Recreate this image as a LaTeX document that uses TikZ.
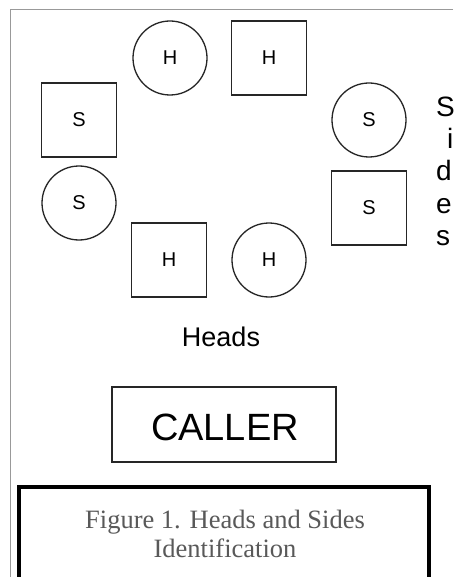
\documentclass[tikz,border=0pt]{standalone}
\usepackage{fontspec}
\setmainfont{Liberation Sans}
\newfontfamily\capfont{Liberation Serif}
\begin{document}
\begin{tikzpicture}[x=1pt,y=-1pt,
  seat/.style={draw=black!85,line width=1.3pt,inner sep=0pt,font=\fontsize{20}{22}\selectfont},
  hc/.style={seat,circle,minimum size=74pt},
  sq/.style={seat,rectangle,minimum width=75pt,minimum height=74pt},
  big/.style={font=\fontsize{28}{32}\selectfont,inner sep=0pt,anchor=base west},
  captext/.style={font=\capfont\fontsize{26.5}{29}\selectfont,text=black!65,inner sep=0pt,anchor=base}]
\useasboundingbox (0,0) rectangle (453,577);
\clip (0,0) rectangle (453,577);
\fill[white] (0,0) rectangle (453,577);
% gray frame
\coordinate (g1) at (453,10);
\coordinate (g2) at (10,10);
\coordinate (g3) at (10,577);
\draw[black!40,line width=1pt] (g1) -- (g2) -- (g3);
% seats
\node[hc] (hc1) at (170,58) {H};
\node[sq] (hs1) at (269,58) {H};
\node[sq] (ss1) at (79,120) {S};
\node[hc] (sc1) at (369,120) {S};
\node[hc] (sc2) at (79,203) {S};
\node[sq] (ss2) at (369,208) {S};
\node[sq] (hs2) at (169,260) {H};
\node[hc] (hc2) at (269,260) {H};
% Sides label
\node[big] (s1) at (436,117) {S};
\node[big] (s2) at (447,149) {i};
\node[big] (s3) at (436,181) {d};
\node[big] (s4) at (436,213) {e};
\node[big] (s5) at (436,245) {s};
% Heads label
\node[font=\fontsize{27}{32}\selectfont,inner sep=0pt,anchor=base] (heads) at (221,346) {Heads};
% Caller
\node[draw=black!85,line width=1.3pt,minimum width=224pt,minimum height=75pt,inner sep=0pt] (callerbox) at (224,424.5) {};
\node[font=\fontsize{38}{40}\selectfont,inner sep=0pt,anchor=base] (caller) at (225,440) {CALLER};
% caption box
\coordinate (c1) at (19,600);
\coordinate (c2) at (19,486.5);
\coordinate (c3) at (429,486.5);
\coordinate (c4) at (429,600);
\draw[black,line width=4pt] (c1) -- (c2) -- (c3) -- (c4);
\node[captext] (cap1) at (225,528) {Figure 1. Heads and Sides};
\node[captext] (cap2) at (225,557) {Identification};
\end{tikzpicture}
\end{document}
